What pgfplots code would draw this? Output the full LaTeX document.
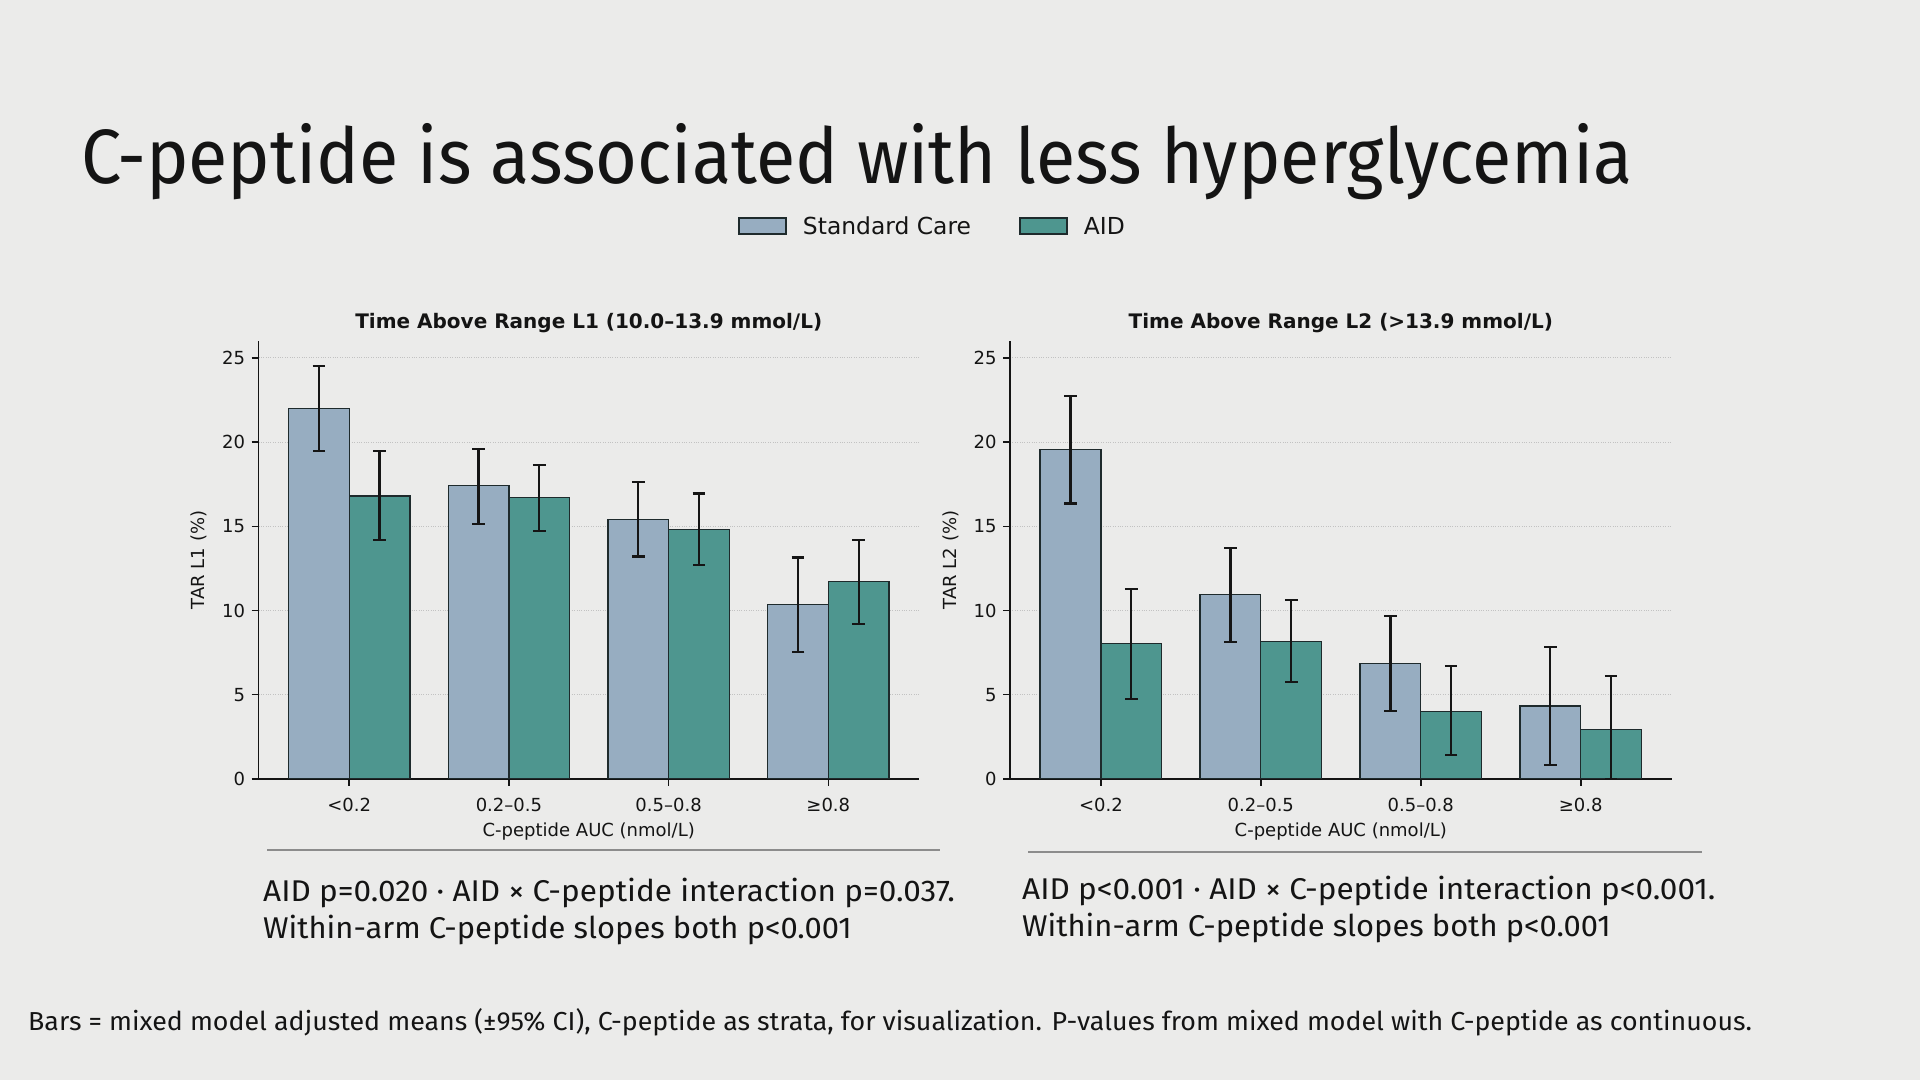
\documentclass[border=0pt]{standalone}
\usepackage{pgfplots}
\pgfplotsset{compat=1.18}
\usepackage{fontspec}
\setmainfont{DejaVu Sans}
\newfontfamily\fira{Fira Sans}
\newfontfamily\djb{DejaVu Sans}
\definecolor{bgc}{HTML}{EBEBEA}
\definecolor{scc}{HTML}{97ADC1}
\definecolor{aidc}{HTML}{4E968F}
\definecolor{edgec}{HTML}{1E2A2C}
\definecolor{errc}{HTML}{151515}
\definecolor{sepc}{HTML}{8C8C8C}
\definecolor{txtc}{HTML}{141414}

\pgfplotsset{
  mybars/.style={
    scale only axis, width=660.5bp, height=437.9bp,
    xmin=-0.568, xmax=3.568, ymin=0, ymax=26,
    axis x line*=bottom, axis y line*=left,
    axis line style={line width=1.8bp, color=txtc},
    axis background/.style={fill=none},
    xtick={0,1,2,3},
    xticklabels={<0.2, 0.2–0.5, 0.5–0.8, ≥0.8},
    ytick={0,5,10,15,20,25},
    tick align=outside,
    major tick length=7bp,
    tick style={line width=1.5bp, color=txtc},
    ymajorgrids,
    grid style={dotted, line width=0.9bp, color=black!24},
    /pgf/number format/assume math mode=true,
    ticklabel style={font=\fontsize{18bp}{21bp}\selectfont, text=txtc},
    xticklabel style={yshift=-8.5bp},
    yticklabel style={xshift=-3bp},
    title style={font=\djb\bfseries\fontsize{20bp}{24bp}\selectfont, text=txtc, at={(0.5,1)}, anchor=base, yshift=7bp},
    every axis y label/.style={at={(axis description cs:-0.0901,0.5)}, rotate=90, anchor=center,
       font=\fontsize{18bp}{21bp}\selectfont, text=txtc},
    every axis x label/.style={at={(axis description cs:0.5,-0.1213)}, anchor=center,
       font=\fontsize{18bp}{21bp}\selectfont, text=txtc},
    xlabel={C-peptide AUC (nmol/L)},
    ybar, bar width=0.38, bar shift=0pt,
    error bars/y dir=both, error bars/y explicit,
    error bars/error bar style={line width=2.2bp, color=errc},
    error bars/error mark options={rotate=90, mark size=6.3bp, line width=2.2bp, color=errc},
  },
}

\begin{document}
\begin{tikzpicture}
\fill[bgc] (0,0) rectangle (1920bp,1080bp);
\useasboundingbox (0,0) rectangle (1920bp,1080bp);

% main title
\node[anchor=base west, inner sep=0, text=txtc] at (81bp,896.7bp)
  {\scalebox{0.933}[1]{\fira\fontsize{77bp}{90bp}\selectfont C-peptide is associated with less hyperglycemia}};

% left axis
\begin{axis}[mybars, at={(258.5bp,301.1bp)}, anchor=south west,
  title={Time Above Range L1 (10.0–13.9 mmol/L)},
  ylabel={TAR L1 (\%)},
  legend style={at={(1.0204,1.262)}, anchor=center, draw=none, fill=none,
    legend columns=2, font=\fontsize{23.4bp}{28bp}\selectfont, text=txtc,
    /tikz/every even column/.append style={column sep=46bp}},
]
\addplot[fill=scc, draw=edgec, line width=1.3bp,
  legend image code/.code={\draw[fill=scc, draw=edgec, line width=1.8bp] (0bp,-8bp) rectangle (47bp,8bp);\path[draw=none,fill=none] (0bp,0bp) -- (62bp,0bp);}]
  coordinates {
  (-0.19,22.0)  += (0,2.5)  -= (0,2.55)
  (0.81,17.4)   += (0,2.2)  -= (0,2.25)
  (1.81,15.4)   += (0,2.25) -= (0,2.2)
  (2.81,10.35)  += (0,2.8)  -= (0,2.8)
  };
\addlegendentry{Standard Care}
\addplot[fill=aidc, draw=edgec, line width=1.3bp,
  legend image code/.code={\draw[fill=aidc, draw=edgec, line width=1.8bp] (0bp,-8bp) rectangle (47bp,8bp);\path[draw=none,fill=none] (0bp,0bp) -- (62bp,0bp);}]
  coordinates {
  (0.19,16.8)   += (0,2.65) -= (0,2.6)
  (1.19,16.7)   += (0,1.95) -= (0,2.0)
  (2.19,14.8)   += (0,2.15) -= (0,2.1)
  (3.19,11.7)   += (0,2.5)  -= (0,2.5)
  };
\addlegendentry{AID}
\end{axis}

% right axis
\begin{axis}[mybars, at={(1010bp,301.1bp)}, anchor=south west, width=661.6bp,
  title={Time Above Range L2 (>13.9 mmol/L)},
  ylabel={TAR L2 (\%)},
]
\addplot[fill=scc, draw=edgec, line width=1.3bp]
  coordinates {
  (-0.19,19.55) += (0,3.2)  -= (0,3.2)
  (0.81,10.95)  += (0,2.75) -= (0,2.8)
  (1.81,6.85)   += (0,2.8)  -= (0,2.8)
  (2.81,4.33)   += (0,3.5)  -= (0,3.5)
  };
\addplot[fill=aidc, draw=edgec, line width=1.3bp]
  coordinates {
  (0.19,8.02)   += (0,3.27) -= (0,3.27)
  (1.19,8.15)   += (0,2.45) -= (0,2.4)
  (2.19,4.02)   += (0,2.7)  -= (0,2.6)
  (3.19,2.93)   += (0,3.18) -= (0,2.93)
  };
\end{axis}

% separators
\draw[sepc, line width=2.6bp] (267bp,230bp) -- (940bp,230bp);
\draw[sepc, line width=2.6bp] (1028bp,228bp) -- (1702bp,228bp);

% annotations
\begin{scope}[every node/.style={anchor=base west, inner sep=0, text=txtc}]
\node at (263bp,178.3bp) {\scalebox{1.05}[1]{\fira\fontsize{30bp}{35bp}\selectfont AID p=0.020 · AID × C-peptide interaction p=0.037.}};
\node at (263bp,141bp) {\scalebox{1.03}[1]{\fira\fontsize{30bp}{35bp}\selectfont Within-arm C-peptide slopes both p<0.001}};
\node at (1022bp,180.3bp) {\scalebox{1.05}[1]{\fira\fontsize{30bp}{35bp}\selectfont AID p<0.001 · AID × C-peptide interaction p<0.001.}};
\node at (1022bp,143bp) {\scalebox{1.03}[1]{\fira\fontsize{30bp}{35bp}\selectfont Within-arm C-peptide slopes both p<0.001}};
\end{scope}

% footnote
\node[anchor=base west, inner sep=0, text=txtc] at (28bp,49.3bp)
  {\scalebox{1.03}[1]{\fira\fontsize{26bp}{30bp}\selectfont Bars = mixed model adjusted means (±95\% CI), C-peptide as strata, for visualization. P-values from mixed model with C-peptide as continuous.}};
\end{tikzpicture}
\end{document}
